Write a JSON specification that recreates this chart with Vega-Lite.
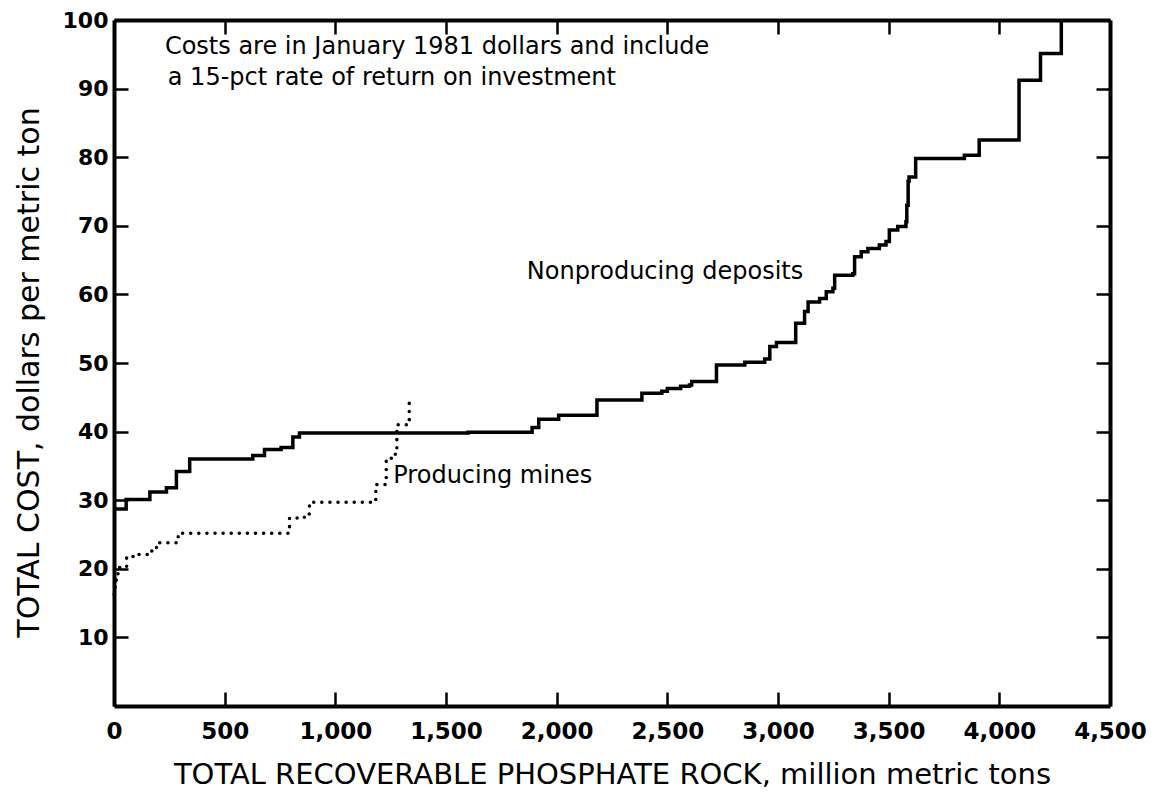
{
  "$schema": "https://vega.github.io/schema/vega-lite/v6.json",
  "width": 996,
  "height": 686,
  "autosize": {"type": "none"},
  "padding": {"left": 114, "top": 20, "right": 41, "bottom": 91},
  "background": "white",
  "config": {
    "view": {"stroke": null},
    "font": "DejaVu Sans",
    "axis": {
      "grid": false,
      "domainColor": "black",
      "domainWidth": 4,
      "tickColor": "black",
      "tickWidth": 2.5,
      "tickSize": -14,
      "labelColor": "black",
      "labelFont": "DejaVu Sans",
      "labelFontWeight": "bold",
      "labelFontSize": 22,
      "titleColor": "black",
      "titleFont": "DejaVu Sans",
      "titleFontWeight": "normal"
    }
  },
  "datasets": {
    "nonproducing": [
      {"x": 0, "y": 28.7},
      {"x": 55, "y": 30.1},
      {"x": 162, "y": 31.2},
      {"x": 237, "y": 31.8},
      {"x": 282, "y": 34.2},
      {"x": 342, "y": 36.0},
      {"x": 627, "y": 36.5},
      {"x": 680, "y": 37.4},
      {"x": 755, "y": 37.7},
      {"x": 808, "y": 39.2},
      {"x": 838, "y": 39.8},
      {"x": 1600, "y": 39.9},
      {"x": 1889, "y": 40.6},
      {"x": 1919, "y": 41.8},
      {"x": 2009, "y": 42.4},
      {"x": 2182, "y": 44.6},
      {"x": 2385, "y": 45.6},
      {"x": 2475, "y": 45.9},
      {"x": 2500, "y": 46.3},
      {"x": 2560, "y": 46.6},
      {"x": 2600, "y": 46.8},
      {"x": 2610, "y": 47.3},
      {"x": 2722, "y": 49.7},
      {"x": 2850, "y": 50.1},
      {"x": 2940, "y": 50.6},
      {"x": 2963, "y": 52.4},
      {"x": 2993, "y": 53.0},
      {"x": 3080, "y": 55.8},
      {"x": 3120, "y": 57.5},
      {"x": 3136, "y": 58.9},
      {"x": 3188, "y": 59.4},
      {"x": 3218, "y": 60.4},
      {"x": 3248, "y": 60.9},
      {"x": 3256, "y": 62.8},
      {"x": 3338, "y": 63.0},
      {"x": 3346, "y": 65.5},
      {"x": 3376, "y": 66.2},
      {"x": 3406, "y": 66.7},
      {"x": 3458, "y": 67.2},
      {"x": 3488, "y": 67.7},
      {"x": 3503, "y": 69.4},
      {"x": 3541, "y": 69.9},
      {"x": 3578, "y": 70.6},
      {"x": 3582, "y": 73.0},
      {"x": 3588, "y": 76.5},
      {"x": 3592, "y": 77.1},
      {"x": 3622, "y": 79.8},
      {"x": 3842, "y": 80.3},
      {"x": 3909, "y": 82.5},
      {"x": 4089, "y": 91.2},
      {"x": 4186, "y": 95.1},
      {"x": 4280, "y": 100}
    ],
    "producing": [
      {"x": 0, "y": 16.3},
      {"x": 5, "y": 17.5},
      {"x": 10, "y": 18.5},
      {"x": 18, "y": 19.5},
      {"x": 25, "y": 20.2},
      {"x": 57, "y": 21.8},
      {"x": 102, "y": 22.1},
      {"x": 170, "y": 22.6},
      {"x": 192, "y": 23.8},
      {"x": 282, "y": 24.5},
      {"x": 290, "y": 25.2},
      {"x": 793, "y": 27.4},
      {"x": 860, "y": 28.0},
      {"x": 883, "y": 29.7},
      {"x": 1176, "y": 30.1},
      {"x": 1183, "y": 32.3},
      {"x": 1227, "y": 33.2},
      {"x": 1230, "y": 36.1},
      {"x": 1271, "y": 37.4},
      {"x": 1278, "y": 41.0},
      {"x": 1331, "y": 41.2},
      {"x": 1334, "y": 44.4}
    ],
    "notes": [
      {"x": 230, "y": 96.0, "text": "Costs are in January 1981 dollars and include"},
      {"x": 243, "y": 91.6, "text": "a 15-pct rate of return on investment"},
      {"x": 1865, "y": 63.2, "text": "Nonproducing deposits"},
      {"x": 1262, "y": 33.5, "text": "Producing mines"}
    ]
  },
  "resolve": {"axis": {"x": "independent", "y": "independent"}},
  "layer": [
    {
      "data": {"name": "nonproducing"},
      "mark": {"type": "line", "interpolate": "step-after", "color": "black", "strokeWidth": 3.5, "strokeJoin": "miter"},
      "encoding": {
        "x": {
          "field": "x", "type": "quantitative",
          "scale": {"domain": [0, 4500], "nice": false, "zero": false},
          "axis": {
            "orient": "bottom",
            "values": [0, 500, 1000, 1500, 2000, 2500, 3000, 3500, 4000, 4500],
            "format": ",d",
            "labelPadding": 28,
            "labelFlush": false,
            "labelFontSize": 23,
            "title": "TOTAL RECOVERABLE PHOSPHATE ROCK, million metric tons",
            "titleFontSize": 29,
            "titlePadding": 17
          }
        },
        "y": {
          "field": "y", "type": "quantitative",
          "scale": {"domain": [0, 100], "nice": false},
          "axis": {
            "orient": "left",
            "values": [10, 20, 30, 40, 50, 60, 70, 80, 90, 100],
            "labelPadding": 20,
            "labelFlush": false,
            "title": "TOTAL COST, dollars per metric ton",
            "titleFontSize": 30,
            "titlePadding": 18,
            "titleY": 352
          }
        }
      }
    },
    {
      "data": {"name": "producing"},
      "mark": {"type": "line", "interpolate": "step-after", "color": "black", "strokeWidth": 3.5, "strokeCap": "round", "strokeDash": [0.1, 8]},
      "encoding": {
        "x": {
          "field": "x", "type": "quantitative",
          "axis": {
            "orient": "top",
            "values": [0, 500, 1000, 1500, 2000, 2500, 3000, 3500, 4000, 4500],
            "labels": false,
            "title": null
          }
        },
        "y": {
          "field": "y", "type": "quantitative",
          "axis": {
            "orient": "right",
            "values": [10, 20, 30, 40, 50, 60, 70, 80, 90, 100],
            "labels": false,
            "title": null
          }
        }
      }
    },
    {
      "data": {"name": "notes"},
      "mark": {"type": "text", "align": "left", "baseline": "middle", "fontSize": 24, "font": "DejaVu Sans", "color": "black"},
      "encoding": {
        "x": {"field": "x", "type": "quantitative", "axis": null},
        "y": {"field": "y", "type": "quantitative", "axis": null},
        "text": {"field": "text", "type": "nominal"}
      }
    }
  ]
}
